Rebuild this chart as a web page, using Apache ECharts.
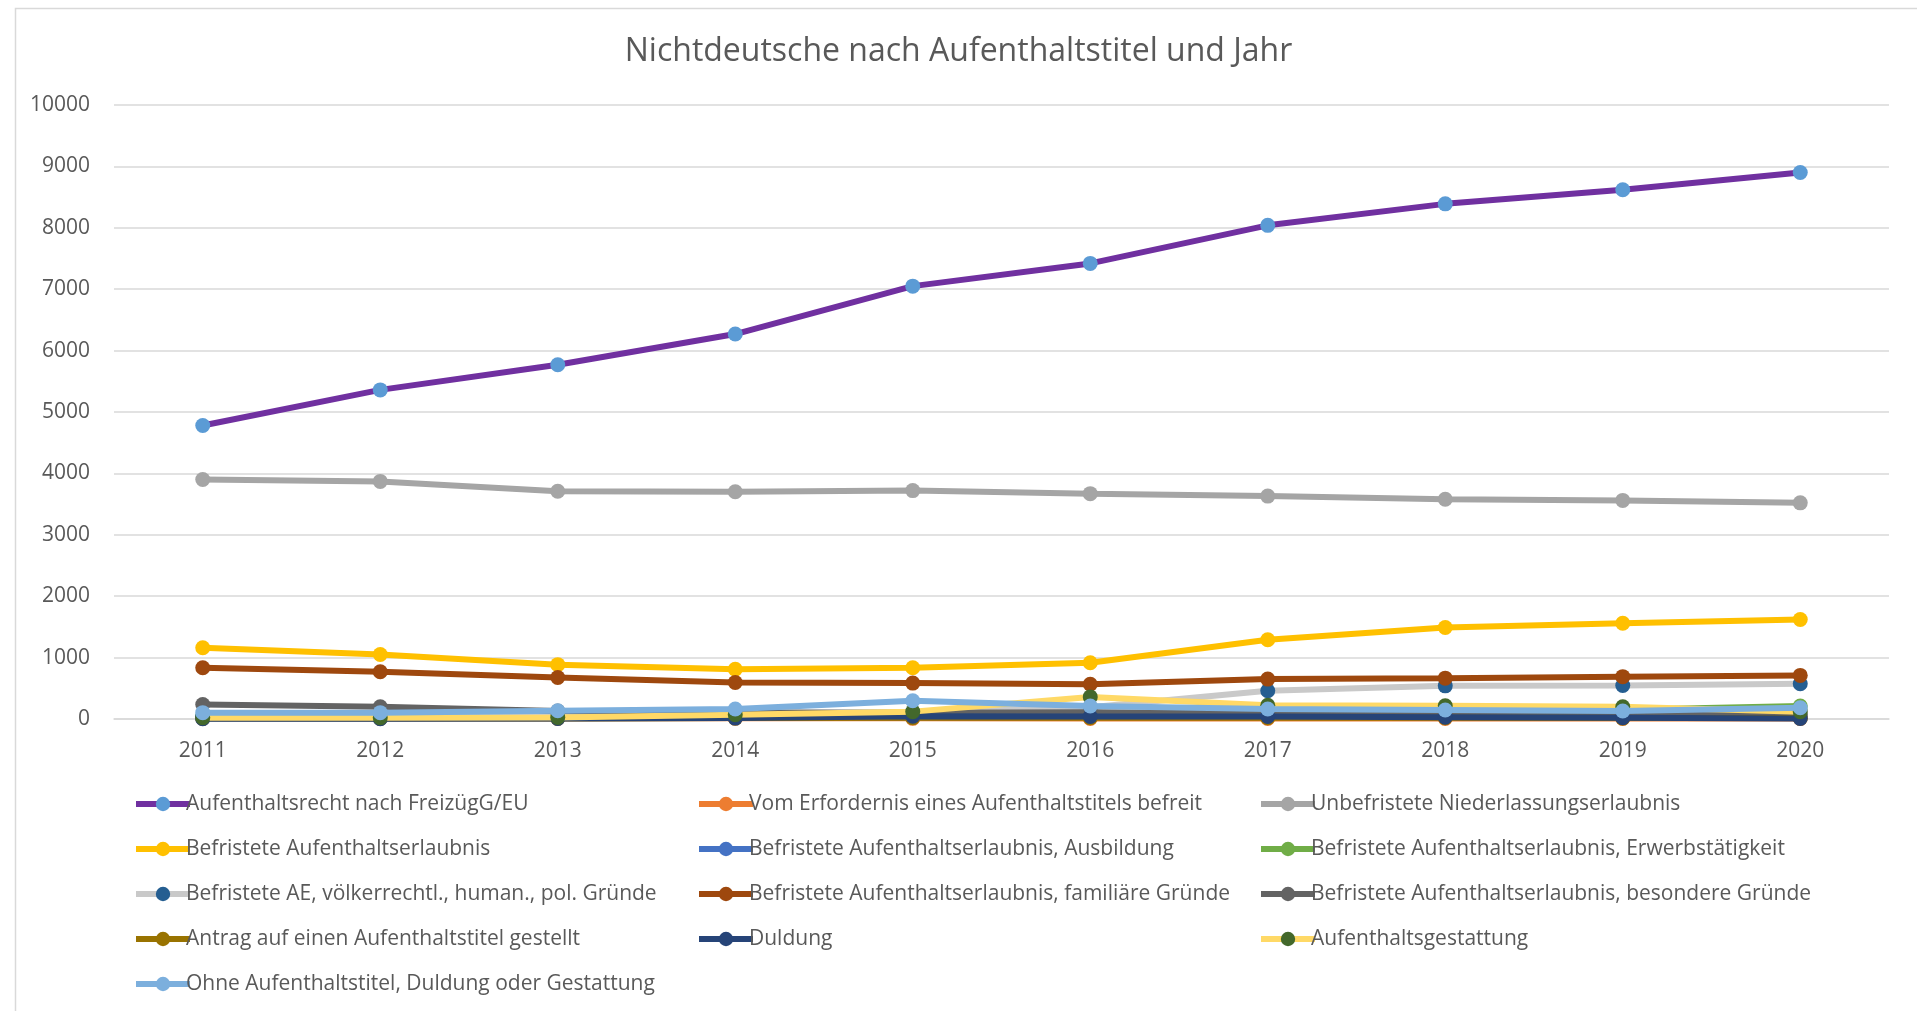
<!DOCTYPE html>
<html>
<head>
<meta charset="utf-8">
<script src="https://cdn.jsdelivr.net/npm/echarts@6/dist/echarts.min.js"></script>
<style>
html,body{margin:0;padding:0;background:#fff;}
#c{width:1917px;height:1011px;}
</style>
</head>
<body>
<div id="c"></div>
<script>
const title = 'Nichtdeutsche nach Aufenthaltstitel und Jahr';
const years = ['2011','2012','2013','2014','2015','2016','2017','2018','2019','2020'];

const freizuegEU      = [4780, 5360, 5770, 6270, 7050, 7420, 8040, 8390, 8620, 8900];
const vomErfordernis  = [15, 14, 12, 12, 11, 10, 10, 9, 9, 8];
const unbefristet     = [3900, 3870, 3710, 3700, 3720, 3670, 3630, 3580, 3560, 3520];
const befristet       = [1160, 1050, 885, 810, 835, 915, 1290, 1490, 1560, 1620];
const ausbildung      = [20, 22, 25, 28, 30, 32, 35, 40, 45, 45];
const erwerb          = [40, 45, 50, 55, 60, 80, 100, 130, 150, 210];
const voelkerrecht    = [50, 50, 45, 60, 110, 190, 460, 540, 545, 575];
const familiaer       = [835, 770, 676, 595, 585, 565, 650, 665, 690, 710];
const besondere       = [235, 200, 130, 110, 100, 110, 95, 85, 75, 70];
const antrag          = [10, 10, 10, 15, 20, 20, 20, 20, 15, 15];
const duldung         = [5, 5, 10, 15, 45, 40, 40, 30, 20, 10];
const gestattung      = [20, 20, 25, 70, 120, 360, 225, 215, 200, 120];
const ohneTitel       = [103, 103, 135, 162, 297, 211, 162, 146, 130, 184];

const names = [
  'Aufenthaltsrecht nach FreizügG/EU',
  'Vom Erfordernis eines Aufenthaltstitels befreit',
  'Unbefristete Niederlassungserlaubnis',
  'Befristete Aufenthaltserlaubnis',
  'Befristete Aufenthaltserlaubnis, Ausbildung',
  'Befristete Aufenthaltserlaubnis, Erwerbstätigkeit',
  'Befristete AE, völkerrechtl., human., pol. Gründe',
  'Befristete Aufenthaltserlaubnis, familiäre Gründe',
  'Befristete Aufenthaltserlaubnis, besondere Gründe',
  'Antrag auf einen Aufenthaltstitel gestellt',
  'Duldung',
  'Aufenthaltsgestattung',
  'Ohne Aufenthaltstitel, Duldung oder Gestattung'
];
const dataSets = [freizuegEU, vomErfordernis, unbefristet, befristet, ausbildung, erwerb,
  voelkerrecht, familiaer, besondere, antrag, duldung, gestattung, ohneTitel];
const lineColors = ['#7030A0','#ED7D31','#A5A5A5','#FFC000','#4472C4','#70AD47',
  '#C9C9C9','#9E480E','#636363','#997300','#264478','#FFD966','#7CAFDD'];
const markerColors = ['#5B9BD5','#ED7D31','#A5A5A5','#FFC000','#4472C4','#70AD47',
  '#255E91','#9E480E','#636363','#997300','#264478','#43682B','#7CAFDD'];

const FONT = 'Open Sans';
const TXT = '#595959';

const series = names.map((n, i) => ({
  name: n,
  type: 'line',
  data: dataSets[i],
  symbol: 'circle',
  symbolSize: 15,
  showAllSymbol: true,
  lineStyle: { color: lineColors[i], width: 6 },
  itemStyle: { color: markerColors[i] },
  emphasis: { disabled: true },
  z: 2 + i
}));

function legendCol(idxs, left) {
  return {
    data: idxs.map(i => names[i]),
    orient: 'vertical',
    left: left,
    top: 787,
    itemWidth: 54,
    itemHeight: 18,
    itemGap: 21,
    lineStyle: { width: 6 },
    textStyle: { fontFamily: FONT, fontSize: 21, color: TXT, lineHeight: 24, padding: [0,0,0,-9] },
    selectedMode: false
  };
}

const chart = echarts.init(document.getElementById('c'), null, { renderer: 'canvas' });
chart.setOption({
  animation: false,
  backgroundColor: '#fff',
  graphic: [{
    type: 'rect', left: 13, top: 6, z: -1,
    shape: { width: 1920, height: 1020 },
    style: { fill: 'none', stroke: '#D9D9D9', lineWidth: 1.5 }
  }],
  title: {
    text: title,
    left: 'center',
    top: 31,
    textStyle: { fontFamily: FONT, fontSize: 32, fontWeight: 'normal', color: TXT }
  },
  grid: { left: 114, right: 28, top: 105, bottom: 292, containLabel: false },
  xAxis: {
    type: 'category',
    data: years,
    boundaryGap: true,
    axisLine: { lineStyle: { color: '#D9D9D9', width: 1.5 } },
    axisTick: { show: false },
    axisLabel: { fontFamily: FONT, fontSize: 21, color: TXT, margin: 22 }
  },
  yAxis: {
    type: 'value',
    min: 0, max: 10000, interval: 1000,
    axisLine: { show: false },
    axisTick: { show: false },
    splitLine: { lineStyle: { color: '#D9D9D9', width: 1.5 } },
    axisLabel: { fontFamily: FONT, fontSize: 21, color: TXT, margin: 24, formatter: v => String(v) }
  },
  legend: [
    legendCol([0,3,6,9,12], 128),
    legendCol([1,4,7,10], 691),
    legendCol([2,5,8,11], 1253)
  ],
  series: series
});
</script>
</body>
</html>
